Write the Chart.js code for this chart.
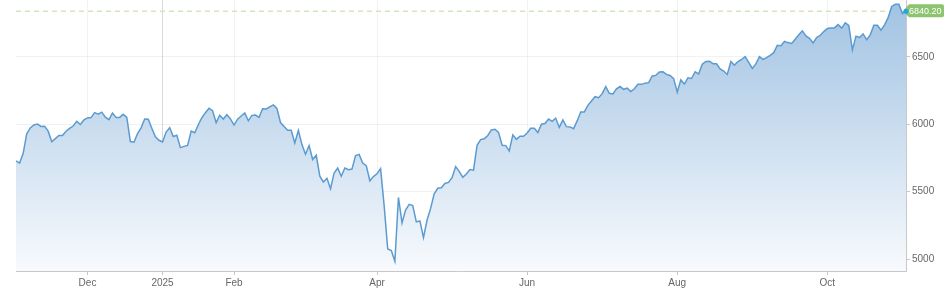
<!DOCTYPE html>
<html>
<head>
<meta charset="utf-8">
<script src="https://cdn.jsdelivr.net/npm/chart.js@4.4.1/dist/chart.umd.min.js"></script>
<style>
  body { margin: 0; background: #fff; }
  #wrap { width: 945px; height: 291px; position: relative; }
</style>
</head>
<body>
<div id="wrap"><canvas id="myChart"></canvas></div>
<script>
"use strict";
// trading days, Nov 2024 - Oct 2025
const dates = [
  "2024-11-01","2024-11-04","2024-11-05","2024-11-06","2024-11-07","2024-11-08","2024-11-11","2024-11-12","2024-11-13","2024-11-14","2024-11-15","2024-11-18","2024-11-19","2024-11-20","2024-11-21","2024-11-22","2024-11-25","2024-11-26","2024-11-27","2024-11-29",
  "2024-12-02","2024-12-03","2024-12-04","2024-12-05","2024-12-06","2024-12-09","2024-12-10","2024-12-11","2024-12-12","2024-12-13","2024-12-16","2024-12-17","2024-12-18","2024-12-19","2024-12-20","2024-12-23","2024-12-24","2024-12-26","2024-12-27","2024-12-30","2024-12-31",
  "2025-01-02","2025-01-03","2025-01-06","2025-01-07","2025-01-08","2025-01-10","2025-01-13","2025-01-14","2025-01-15","2025-01-16","2025-01-17","2025-01-21","2025-01-22","2025-01-23","2025-01-24","2025-01-27","2025-01-28","2025-01-29","2025-01-30","2025-01-31",
  "2025-02-03","2025-02-04","2025-02-05","2025-02-06","2025-02-07","2025-02-10","2025-02-11","2025-02-12","2025-02-13","2025-02-14","2025-02-18","2025-02-19","2025-02-20","2025-02-21","2025-02-24","2025-02-25","2025-02-26","2025-02-27","2025-02-28",
  "2025-03-03","2025-03-04","2025-03-05","2025-03-06","2025-03-07","2025-03-10","2025-03-11","2025-03-12","2025-03-13","2025-03-14","2025-03-17","2025-03-18","2025-03-19","2025-03-20","2025-03-21","2025-03-24","2025-03-25","2025-03-26","2025-03-27","2025-03-28","2025-03-31",
  "2025-04-01","2025-04-02","2025-04-03","2025-04-04","2025-04-07","2025-04-08","2025-04-09","2025-04-10","2025-04-11","2025-04-14","2025-04-15","2025-04-16","2025-04-17","2025-04-21","2025-04-22","2025-04-23","2025-04-24","2025-04-25","2025-04-28","2025-04-29","2025-04-30",
  "2025-05-01","2025-05-02","2025-05-05","2025-05-06","2025-05-07","2025-05-08","2025-05-09","2025-05-12","2025-05-13","2025-05-14","2025-05-15","2025-05-16","2025-05-19","2025-05-20","2025-05-21","2025-05-22","2025-05-23","2025-05-27","2025-05-28","2025-05-29","2025-05-30",
  "2025-06-02","2025-06-03","2025-06-04","2025-06-05","2025-06-06","2025-06-09","2025-06-10","2025-06-11","2025-06-12","2025-06-13","2025-06-16","2025-06-17","2025-06-18","2025-06-20","2025-06-23","2025-06-24","2025-06-25","2025-06-26","2025-06-27","2025-06-30",
  "2025-07-01","2025-07-02","2025-07-03","2025-07-07","2025-07-08","2025-07-09","2025-07-10","2025-07-11","2025-07-14","2025-07-15","2025-07-16","2025-07-17","2025-07-18","2025-07-21","2025-07-22","2025-07-23","2025-07-24","2025-07-25","2025-07-28","2025-07-29","2025-07-30","2025-07-31",
  "2025-08-01","2025-08-04","2025-08-05","2025-08-06","2025-08-07","2025-08-08","2025-08-11","2025-08-12","2025-08-13","2025-08-14","2025-08-15","2025-08-18","2025-08-19","2025-08-20","2025-08-21","2025-08-22","2025-08-25","2025-08-26","2025-08-27","2025-08-28","2025-08-29",
  "2025-09-02","2025-09-03","2025-09-04","2025-09-05","2025-09-08","2025-09-09","2025-09-10","2025-09-11","2025-09-12","2025-09-15","2025-09-16","2025-09-17","2025-09-18","2025-09-19","2025-09-22","2025-09-23","2025-09-24","2025-09-25","2025-09-26","2025-09-29","2025-09-30",
  "2025-10-01","2025-10-02","2025-10-03","2025-10-06","2025-10-07","2025-10-08","2025-10-09","2025-10-10","2025-10-13","2025-10-14","2025-10-15","2025-10-16","2025-10-17","2025-10-20","2025-10-21","2025-10-22","2025-10-23","2025-10-24","2025-10-27","2025-10-28","2025-10-29","2025-10-30","2025-10-31"
];

const closes = [
  5728.8,5712.7,5782.8,5929.0,5973.1,5995.5,6001.4,5984.0,5985.4,5949.2,5870.6,5893.6,5917.0,5917.1,5948.7,5969.3,5987.4,6021.6,5998.7,6032.4,
  6047.2,6049.9,6086.5,6075.1,6090.3,6052.9,6034.9,6084.2,6051.3,6051.1,6074.1,6050.6,5872.2,5867.1,5930.9,5974.1,6040.0,6037.6,5970.8,5906.9,5881.6,
  5868.6,5942.5,5975.4,5909.0,5918.3,5827.0,5836.2,5842.9,5949.9,5937.3,5996.7,6049.2,6086.4,6118.7,6101.2,6012.3,6067.7,6039.3,6071.2,6040.5,
  5994.6,6037.9,6061.5,6083.6,6026.0,6066.4,6068.5,6052.0,6115.1,6114.6,6129.6,6144.2,6117.5,6013.1,5983.3,5955.3,5956.1,5861.6,5954.5,
  5849.7,5778.2,5842.6,5738.5,5770.2,5614.6,5572.1,5599.3,5521.5,5638.9,5675.1,5614.7,5675.3,5662.9,5667.6,5767.6,5776.7,5712.2,5693.3,5580.9,5611.9,
  5633.1,5671.0,5396.5,5074.1,5062.3,4982.8,5456.9,5268.1,5363.4,5406.0,5396.6,5275.7,5282.7,5158.2,5287.8,5375.9,5484.8,5525.2,5528.8,5560.8,5569.1,
  5604.1,5686.7,5650.4,5606.9,5631.3,5663.9,5659.9,5844.2,5886.6,5892.6,5916.9,5958.4,5963.6,5940.5,5844.6,5842.0,5802.8,5921.5,5888.6,5912.2,5911.7,
  5935.9,5970.4,5970.8,5939.3,6000.4,6005.9,6038.8,6022.2,6045.3,5977.0,6033.1,5982.7,5980.9,5967.8,6025.2,6092.2,6092.2,6141.0,6173.1,6205.0,
  6198.0,6227.4,6279.4,6230.0,6225.5,6263.3,6280.5,6259.8,6268.6,6243.8,6263.7,6297.4,6296.8,6305.6,6309.6,6358.9,6363.4,6388.6,6389.8,6370.9,6362.9,6339.4,
  6238.0,6329.9,6299.2,6345.1,6340.0,6389.5,6373.5,6445.8,6466.6,6468.5,6449.8,6449.2,6411.4,6395.8,6370.2,6466.9,6439.3,6465.9,6481.4,6501.9,6460.3,
  6415.5,6448.3,6502.1,6481.5,6495.2,6512.6,6532.0,6587.5,6584.3,6615.3,6606.8,6600.4,6632.0,6664.4,6693.8,6656.9,6638.0,6604.7,6643.7,6661.2,6688.5,
  6711.2,6715.4,6715.8,6740.3,6714.6,6753.7,6735.1,6552.5,6654.7,6644.3,6671.1,6629.1,6664.0,6735.1,6735.4,6699.4,6738.4,6791.7,6875.2,6890.9,6890.6,6822.3,6840.2
];

// x axis ticks (first trading day of the month)
const tickDates = ["2024-12-02", "2025-01-02", "2025-02-03", "2025-04-01", "2025-06-02", "2025-08-01", "2025-10-01"];
const tickLabels = ["Dec", "2025", "Feb", "Apr", "Jun", "Aug", "Oct"];
const yTicks = [5000, 5500, 6000, 6500];

const tickFont = { family: "'Liberation Sans', Arial, sans-serif", size: 10 };
const lastIdx = closes.length - 1;

// dashed line + price tag for the last close
const lastPrice = {
  id: "lastPrice",
  beforeDatasetsDraw(chart) {
    const { ctx, chartArea } = chart;
    const y = chart.scales.y.getPixelForValue(closes[lastIdx]);
    ctx.save();
    ctx.strokeStyle = "#cfe6bf";
    ctx.lineWidth = 1.5;
    ctx.setLineDash([5, 4]);
    ctx.beginPath();
    ctx.moveTo(chartArea.left, y);
    ctx.lineTo(chartArea.right, y);
    ctx.stroke();
    ctx.restore();
  },
  afterDraw(chart) {
    const { ctx } = chart;
    const x = chart.scales.x.getPixelForValue(lastIdx);
    const y = chart.scales.y.getPixelForValue(closes[lastIdx]);
    const left = x + 1, right = x + 38, top = y - 7, bottom = y + 6;
    ctx.save();
    ctx.fillStyle = "#8dc46f";
    ctx.beginPath();
    ctx.moveTo(x - 3, y);
    ctx.lineTo(left + 2, top);
    ctx.lineTo(right - 2, top);
    ctx.quadraticCurveTo(right, top, right, top + 2);
    ctx.lineTo(right, bottom - 2);
    ctx.quadraticCurveTo(right, bottom, right - 2, bottom);
    ctx.lineTo(left + 2, bottom);
    ctx.closePath();
    ctx.fill();
    ctx.fillStyle = "#fff";
    ctx.font = "9px 'Liberation Sans', Arial, sans-serif";
    ctx.textBaseline = "middle";
    ctx.textAlign = "left";
    ctx.fillText(closes[lastIdx].toFixed(2), x + 3, y + 0.5);
    ctx.fillStyle = "#1ea5ec";
    ctx.beginPath();
    ctx.arc(x, y, 2.5, 0, Math.PI * 2);
    ctx.fill();
    ctx.restore();
  }
};

const myChart = new Chart(document.getElementById("myChart"), {
  type: "line",
  data: {
    labels: dates,
    datasets: [
      {
        data: closes,
        borderColor: "#5b9bd0",
        borderWidth: 1.5,
        pointRadius: 0,
        tension: 0,
        fill: "start",
        backgroundColor: (context) => {
          const area = context.chart.chartArea;
          if (!area) return "rgba(160,195,225,0.5)";
          const g = context.chart.ctx.createLinearGradient(0, area.top, 0, area.bottom);
          g.addColorStop(0, "rgb(160,194,226)");
          g.addColorStop(1, "rgb(248,250,253)");
          return g;
        },
      },
    ],
  },
  options: {
    responsive: true,
    maintainAspectRatio: false,
    animation: false,
    layout: { padding: { left: 16, top: 0, right: 0, bottom: 0 } },
    plugins: {
      legend: { display: false },
      tooltip: { enabled: false },
    },
    scales: {
      x: {
        type: "category",
        offset: false,
        afterBuildTicks: (scale) => {
          scale.ticks = tickDates.map((d) => ({ value: dates.indexOf(d) }));
        },
        afterFit: (scale) => {
          scale.height = 20;
          scale.paddingLeft = 0;
          scale.paddingRight = 0;
        },
        ticks: {
          autoSkip: false,
          maxRotation: 0,
          padding: 2,
          color: "#666",
          font: tickFont,
          callback: (val, i) => tickLabels[i],
        },
        grid: {
          color: (c) => (c.index === 1 ? "rgba(0,0,0,0.15)" : "rgba(0,0,0,0.05)"),
          tickLength: 4,
          tickColor: "#c8c8c8",
        },
        border: { color: "#c8c8c8" },
      },
      y: {
        position: "right",
        min: 4911,
        max: 6923,
        afterBuildTicks: (scale) => {
          scale.ticks = yTicks.map((v) => ({ value: v }));
        },
        afterFit: (scale) => {
          scale.width = 39;
          scale.paddingTop = 0;
          scale.paddingBottom = 0;
        },
        ticks: {
          padding: 2,
          color: "#666",
          font: tickFont,
          callback: (v) => String(v),
        },
        grid: {
          color: "rgba(0,0,0,0.05)",
          tickLength: 4,
          tickColor: "#c8c8c8",
        },
        border: { color: "#c8c8c8" },
      },
    },
  },
  plugins: [lastPrice],
});
</script>
</body>
</html>
